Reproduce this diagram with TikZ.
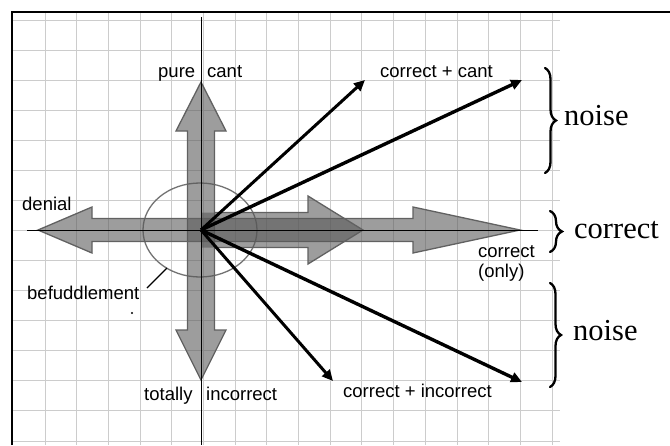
\documentclass[tikz,border=0pt]{standalone}
\usepackage{fontspec}
\usetikzlibrary{arrows.meta,decorations.pathreplacing}
\newfontfamily\labfont{Liberation Sans}
\newfontfamily\bigfont{Liberation Serif}
\begin{document}
\begin{tikzpicture}[x=1pt,y=-1pt,
  lab/.style={font=\labfont\fontsize{18.5}{20}\selectfont, inner sep=0pt, anchor=base west},
  big/.style={font=\bigfont\fontsize{30.5}{32}\selectfont, inner sep=0pt, anchor=base west},
  bracestyle/.style={line width=2.3pt, line cap=round, decorate, decoration={brace, amplitude=#1}},
  blockfill/.style={fill=black!66, fill opacity=0.58},
  blockedge/.style={draw=black!62, line width=1.3pt, line join=miter},
  vec/.style={line width=3pt, -{Triangle[length=11pt,width=10pt]}},
  axisline/.style={line width=0.9pt, black},
  gridline/.style={line width=0.9pt, black!20}]

\fill[white] (0,0) rectangle (670,445);
\useasboundingbox (0,0) rectangle (670,445);

% grid
\foreach \k in {0,...,16} \draw[gridline] ({45+31.69*\k},13) -- ({45+31.69*\k},445);
\foreach \k in {0,...,14} \draw[gridline] (13,{20+30.07*\k}) -- (560,{20+30.07*\k});

% frame
\draw[line width=1.5pt] (12,445) -- (12,12) -- (670,12);

% befuddlement ellipse
\draw[black!55, line width=1.3pt] (200,230) ellipse [x radius=57pt, y radius=47pt];

% vertical double block arrow
\path[blockfill,blockedge] (201,82) -- (226,131) -- (214.5,131) -- (214.5,330) -- (226,330) -- (201,380) -- (176,330) -- (187.5,330) -- (187.5,131) -- (176,131) -- cycle;
% horizontal double block arrow
\path[blockfill,blockedge] (38,230) -- (92,207) -- (92,218.5) -- (413,218.5) -- (413,207) -- (520,230) -- (413,253) -- (413,241.5) -- (92,241.5) -- (92,253) -- cycle;
% short right block arrow
\fill[blockfill] (201,212.5) -- (308,212.5) -- (308,196) -- (363,230) -- (308,264) -- (308,247.5) -- (201,247.5) -- cycle;
\draw[blockedge] (214.5,212.5) -- (308,212.5) -- (308,196) -- (363,230) -- (308,264) -- (308,247.5) -- (214.5,247.5);

% axes
\draw[axisline] (201,17) -- (201,445);
\draw[axisline] (27,230) -- (538,230);

% vectors
\coordinate (O) at (201,230);
\coordinate (ccA) at (365,80);
\coordinate (ccB) at (522,80);
\coordinate (ciA) at (333,381);
\coordinate (ciB) at (522,382);
\draw[vec] (O) -- (ccA);
\draw[vec, line width=3.4pt] (O) -- (ccB);
\draw[vec] (O) -- (ciA);
\draw[vec, line width=3.4pt] (O) -- (ciB);

% labels
\node[lab] (pure) at (158,77) {pure};
\node[lab] (cant) at (207,77) {cant};
\node[lab] (denial) at (22,210) {denial};
\node[lab] (bef) at (27,299) {befuddlement};
\node[lab] (tot) at (144,400) {totally};
\node[lab] (inc) at (206,400) {incorrect};
\node[lab] (ccant) at (380,77) {correct + cant};
\node[lab] (conlyA) at (478,257) {correct};
\node[lab] (conlyB) at (478,277) {(only)};
\node[lab] (cinc) at (343,397) {correct + incorrect};

% pointer and dot
\coordinate (pA) at (147,288);
\coordinate (pB) at (167,268);
\draw[line width=1.2pt] (pA) -- (pB);
\fill (132,313) circle (1.2pt);

% braces
\coordinate (bAt) at (545,68);
\coordinate (bAb) at (545,173);
\coordinate (bBt) at (550,211);
\coordinate (bBb) at (550,252);
\coordinate (bCt) at (550,283);
\coordinate (bCb) at (550,387);
\draw[bracestyle=11pt] (bAt) -- (bAb);
\draw[bracestyle=12pt] (bBt) -- (bBb);
\draw[bracestyle=11pt] (bCt) -- (bCb);
\node[big] (noiseA) at (564,125) {noise};
\node[big] (corr) at (574,238) {correct};
\node[big] (noiseB) at (573,340) {noise};
\end{tikzpicture}
\end{document}
